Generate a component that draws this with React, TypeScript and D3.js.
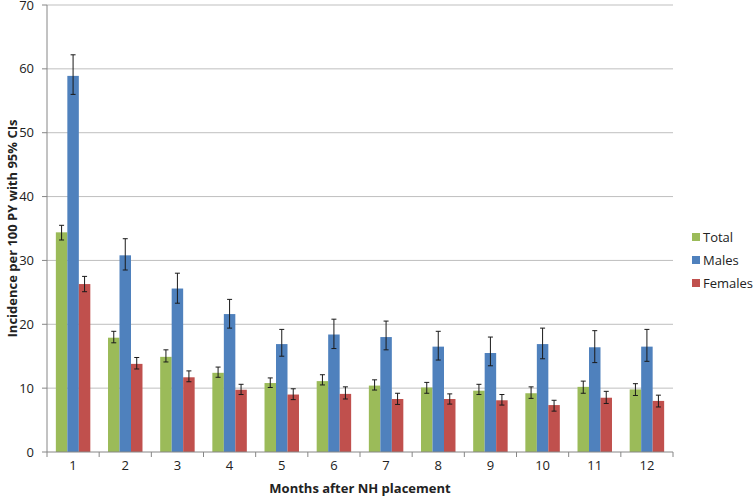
import React from "react";
import * as d3 from "d3";

const months = ["1","2","3","4","5","6","7","8","9","10","11","12"];
const seriesNames = ["Total", "Males", "Females"];
const seriesColors = ["#9BBB59", "#4F81BD", "#C0504D"];

const totalVal = [34.4, 17.9, 14.9, 12.4, 10.8, 11.1, 10.4, 10.1, 9.6, 9.2, 10.2, 9.8];
const totalLo = [33.2, 17.1, 14.1, 11.7, 10.1, 10.5, 9.7, 9.2, 9.0, 8.4, 9.2, 8.85];
const totalHi = [35.5, 18.9, 16.0, 13.3, 11.6, 12.1, 11.3, 10.9, 10.6, 10.2, 11.1, 10.7];

const malesVal = [58.9, 30.8, 25.6, 21.6, 16.9, 18.4, 18.0, 16.5, 15.5, 16.9, 16.4, 16.5];
const malesLo = [56.0, 28.5, 23.3, 19.4, 15.0, 16.2, 16.0, 14.4, 13.5, 14.6, 14.0, 14.2];
const malesHi = [62.2, 33.4, 28.0, 23.9, 19.2, 20.8, 20.5, 18.9, 18.0, 19.4, 19.0, 19.2];

const femalesVal = [26.3, 13.8, 11.7, 9.75, 9.0, 9.1, 8.3, 8.3, 8.1, 7.35, 8.5, 8.0];
const femalesLo = [25.1, 13.0, 11.0, 9.0, 8.2, 8.3, 7.45, 7.5, 7.35, 6.4, 7.6, 7.05];
const femalesHi = [27.5, 14.8, 12.7, 10.6, 9.9, 10.2, 9.2, 9.1, 9.0, 8.1, 9.5, 8.9];

const yTicks = [0, 10, 20, 30, 40, 50, 60, 70];

const series = [
  { val: totalVal, lo: totalLo, hi: totalHi },
  { val: malesVal, lo: malesLo, hi: malesHi },
  { val: femalesVal, lo: femalesLo, hi: femalesHi },
];

export default function App() {
  const W = 755, H = 502;
  const left = 47, right = 673, top = 5, bottom = 452;
  const font = "'Open Sans', 'Liberation Sans', sans-serif";

  const x = d3.scaleBand<string>().domain(months).range([left, right]).paddingInner(0).paddingOuter(0);
  const y = d3.scaleLinear().domain([0, 70]).range([bottom, top]);
  const inner = d3.scaleBand<number>().domain([0, 1, 2]).range([0, x.bandwidth()]).paddingOuter(0.77).paddingInner(0);

  const boundaries = d3.range(months.length + 1).map(i => left + i * x.bandwidth());

  return (
    <svg width={W} height={H} style={{ position: "absolute", left: 0, top: 0, background: "#fff" }}>
      {yTicks.map(t => (
        <g key={t}>
          {t > 0 && <line x1={left} x2={right} y1={y(t)} y2={y(t)} stroke="#BFBFBF" strokeWidth={1} />}
          <line x1={left - 5} x2={left} y1={y(t)} y2={y(t)} stroke="#868686" />
          <text x={left - 13} y={y(t)} dy="0.35em" textAnchor="end" fontSize={13} fontFamily={font} fill="#222">{t}</text>
        </g>
      ))}
      {series.map((s, si) =>
        months.map((m, i) => {
          const bx = (x(m) as number) + (inner(si) as number);
          const bw = inner.bandwidth();
          const cx = bx + bw / 2;
          return (
            <g key={`${si}-${i}`}>
              <rect x={bx} y={y(s.val[i])} width={bw} height={bottom - y(s.val[i])} fill={seriesColors[si]} />
              <line x1={cx} x2={cx} y1={y(s.hi[i])} y2={y(s.lo[i])} stroke="#1a1a1a" strokeWidth={1} />
              <line x1={cx - 2.5} x2={cx + 2.5} y1={y(s.hi[i])} y2={y(s.hi[i])} stroke="#1a1a1a" strokeWidth={1} />
              <line x1={cx - 2.5} x2={cx + 2.5} y1={y(s.lo[i])} y2={y(s.lo[i])} stroke="#1a1a1a" strokeWidth={1} />
            </g>
          );
        })
      )}
      <line x1={left} x2={left} y1={top} y2={bottom} stroke="#868686" />
      <line x1={left} x2={right} y1={bottom} y2={bottom} stroke="#868686" />
      {boundaries.map((b, i) => (
        <line key={i} x1={b} x2={b} y1={bottom} y2={bottom + 5} stroke="#868686" />
      ))}
      {months.map(m => (
        <text key={m} x={(x(m) as number) + x.bandwidth() / 2} y={470} textAnchor="middle" fontSize={13} fontFamily={font} fill="#222">{m}</text>
      ))}
      <text x={(left + right) / 2} y={493} textAnchor="middle" fontSize={13} fontWeight="bold" fontFamily={font} fill="#222">Months after NH placement</text>
      <text transform={`translate(12, ${(top + bottom) / 2}) rotate(-90)`} textAnchor="middle" dy="0.35em" fontSize={13} fontWeight="bold" fontFamily={font} fill="#222">Incidence per 100 PY with 95% CIs</text>
      {seriesNames.map((n, i) => (
        <g key={n}>
          <rect x={692} y={233 + i * 23} width={8} height={8} fill={seriesColors[i]} />
          <text x={703} y={237 + i * 23} dy="0.35em" fontSize={13} fontFamily={font} fill="#222">{n}</text>
        </g>
      ))}
    </svg>
  );
}
